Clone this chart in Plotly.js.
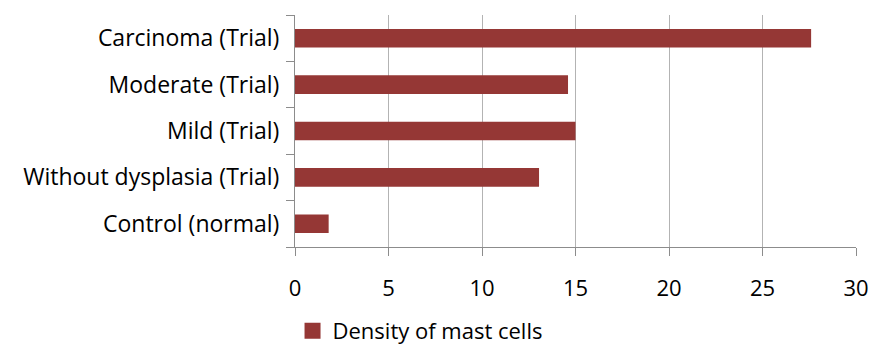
<!DOCTYPE html>
<html>
<head>
<meta charset="utf-8">
<script src="https://cdn.plot.ly/plotly-3.0.1.min.js"></script>
<style>html,body{margin:0;padding:0;background:#fff;}#chart{width:872px;height:345px;}</style>
</head>
<body>
<div id="chart"></div>
<script>
const categories = ["Control (normal)", "Without dysplasia (Trial)", "Mild (Trial)", "Moderate (Trial)", "Carcinoma (Trial)"];
const density = [1.8, 13.05, 15.0, 14.6, 27.6];
const seriesName = "Density of mast cells";
const xTicks = [0, 5, 10, 15, 20, 25, 30];

const FONT = "'Open Sans', Lato, sans-serif";
const BAR_COLOR = "#953735";

const barTrace = {
  type: "bar",
  orientation: "h",
  y: categories,
  x: density,
  name: seriesName,
  marker: {color: BAR_COLOR},
  showlegend: false
};

const legendTrace = {
  type: "scatter",
  mode: "markers",
  x: [null],
  y: [null],
  name: seriesName,
  marker: {symbol: "square", size: 16, color: BAR_COLOR},
  showlegend: true,
  hoverinfo: "skip"
};

const layout = {
  width: 872,
  height: 345,
  margin: {l: 295, r: 16, t: 15, b: 98},
  paper_bgcolor: "#fff",
  plot_bgcolor: "#fff",
  font: {family: FONT, size: 22, color: "#000"},
  bargap: 0.6,
  xaxis: {
    range: [0, 30],
    tickvals: xTicks,
    ticktext: xTicks.map(String),
    showgrid: true,
    gridcolor: "#b3b3b3",
    gridwidth: 1,
    zeroline: false,
    showline: true,
    linecolor: "#8c8c8c",
    linewidth: 1,
    ticks: "outside",
    ticklen: 8,
    tickcolor: "#8c8c8c",
    ticklabelstandoff: 14,
    fixedrange: true
  },
  yaxis: {
    type: "category",
    categoryorder: "array",
    categoryarray: categories,
    showgrid: false,
    zeroline: false,
    showline: true,
    linecolor: "#8c8c8c",
    linewidth: 1,
    ticks: "outside",
    ticklen: 8,
    tickcolor: "#8c8c8c",
    tickson: "boundaries",
    ticklabelstandoff: 10,
    tickfont: {family: FONT, size: 23, color: "#000"},
    fixedrange: true
  },
  legend: {
    orientation: "h",
    x: 303 / 872 - 0.012,
    xanchor: "left",
    xref: "container",
    y: 14 / 345,
    yanchor: "middle",
    yref: "container",
    font: {family: FONT, size: 22, color: "#000"},
    itemwidth: 30,
    bgcolor: "rgba(0,0,0,0)"
  }
};

Plotly.newPlot("chart", [barTrace, legendTrace], layout, {displayModeBar: false, staticPlot: true});
</script>
</body>
</html>
